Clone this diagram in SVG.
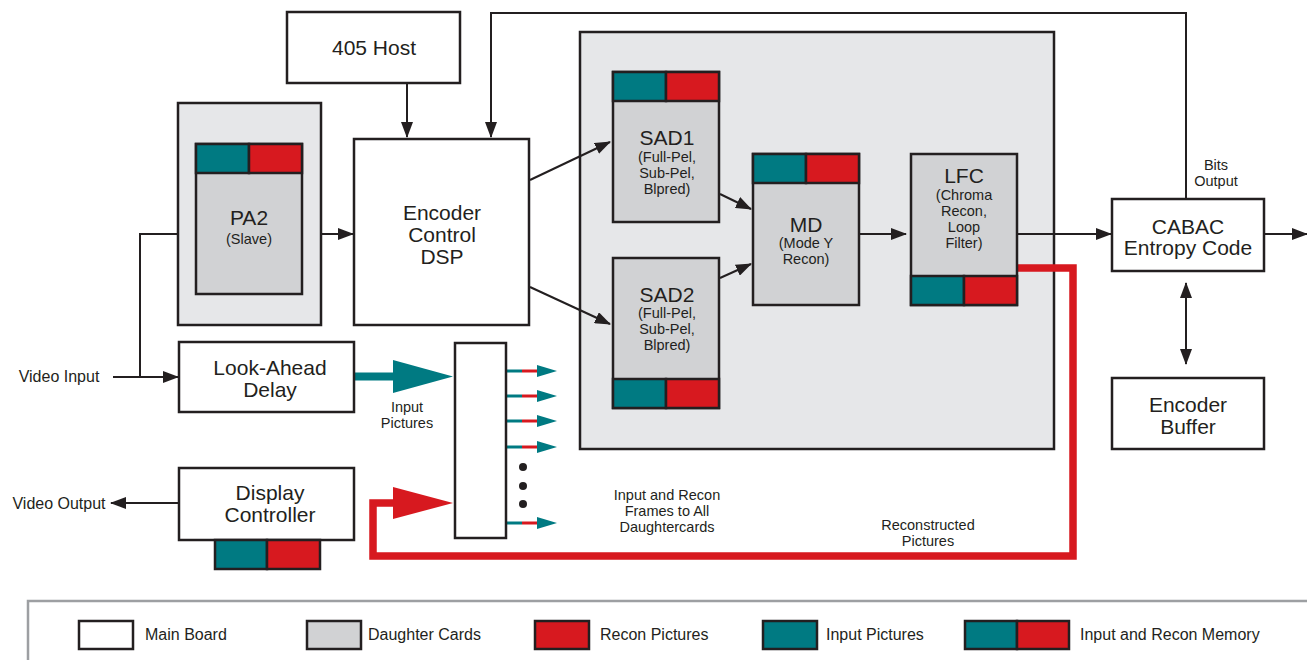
<svg xmlns="http://www.w3.org/2000/svg" width="1307" height="660" viewBox="0 0 1307 660">
  <style>
    text { font-family: "Liberation Sans", Arial, sans-serif; fill: #231f20; text-anchor: middle; }
    .main { fill: #ffffff; stroke: #231f20; stroke-width: 2.5; }
    .card { fill: #d1d2d4; stroke: #231f20; stroke-width: 2.5; }
    .shell { fill: #e6e7e9; stroke: #231f20; stroke-width: 2.5; }
    .teal { fill: #007a82; stroke: #231f20; stroke-width: 2.5; }
    .red { fill: #d7191f; stroke: #231f20; stroke-width: 2.5; }
    .wire { fill: none; stroke: #231f20; stroke-width: 2; }
    .arr { marker-end: url(#ah); }
    .big { font-size: 21px; }
    .title { font-size: 21px; }
    .sub { font-size: 14.5px; }
    .lbl { font-size: 16px; }
    .leg { font-size: 16px; text-anchor: start; }
  </style>
  <defs>
    <marker id="ah" markerUnits="userSpaceOnUse" markerWidth="16" markerHeight="12" refX="15" refY="6" orient="auto">
      <path d="M0,0 L16,6 L0,12 Z" fill="#231f20"/>
    </marker>
    <marker id="ahs" markerUnits="userSpaceOnUse" markerWidth="16" markerHeight="12" refX="1" refY="6" orient="auto">
      <path d="M16,0 L0,6 L16,12 Z" fill="#231f20"/>
    </marker>
    <g id="tap">
      <line x1="0" y1="0" x2="16" y2="0" stroke="#007a82" stroke-width="3"/>
      <line x1="16" y1="0" x2="31" y2="0" stroke="#d7191f" stroke-width="3"/>
      <path d="M31,-6 L51,0 L31,6 Z" fill="#007a82"/>
    </g>
  </defs>

  <!-- daughter card shell -->
  <rect id="card-shell" class="shell" x="580" y="32" width="474" height="417"/>

  <!-- connectors -->
  <g id="connectors">
    <line class="wire arr" x1="407" y1="83" x2="407" y2="137"/>
    <polyline class="wire arr" points="1186,199 1186,13 491,13 491,137"/>
    <line class="wire arr" x1="321" y1="234" x2="353" y2="234"/>
    <line class="wire arr" x1="113" y1="377" x2="178" y2="377"/>
    <polyline class="wire arr" points="140,377 140,234 194,234"/>
    <line class="wire arr" x1="530" y1="180" x2="610" y2="142"/>
    <line class="wire arr" x1="530" y1="287" x2="610" y2="324"/>
    <line class="wire arr" x1="720" y1="194" x2="751" y2="209"/>
    <line class="wire arr" x1="720" y1="278" x2="751" y2="264"/>
    <line class="wire arr" x1="859" y1="234" x2="906" y2="234"/>
    <line class="wire arr" x1="1017" y1="234" x2="1111" y2="234"/>
    <line class="wire arr" x1="1264" y1="234" x2="1307" y2="234"/>
    <line class="wire" x1="1186" y1="283" x2="1186" y2="364" marker-start="url(#ahs)" marker-end="url(#ah)"/>
    <line class="wire arr" x1="179" y1="503" x2="111" y2="503"/>
    <!-- input pictures feed -->
    <line x1="354" y1="376.5" x2="395" y2="376.5" stroke="#007a82" stroke-width="8"/>
    <path d="M393,360 L453,376.5 L393,393 Z" fill="#007a82"/>
    <!-- reconstructed pictures return -->
    <polyline points="1017,268 1073,268 1073,556 373,556 373,503 396,503" fill="none" stroke="#d7191f" stroke-width="7.5"/>
    <path d="M393,487 L453,503 L393,519 Z" fill="#d7191f"/>
    <!-- frame distribution taps -->
    <use href="#tap" x="506" y="371"/>
    <use href="#tap" x="506" y="396"/>
    <use href="#tap" x="506" y="421"/>
    <use href="#tap" x="506" y="447"/>
    <use href="#tap" x="506" y="523"/>
    <circle cx="523" cy="467" r="4" fill="#231f20"/>
    <circle cx="523" cy="486" r="4" fill="#231f20"/>
    <circle cx="523" cy="504" r="4" fill="#231f20"/>
  </g>

  <g id="host">
    <rect class="main" x="287" y="12" width="173" height="71"/>
    <text class="big" x="374" y="55">405 Host</text>
  </g>

  <g id="pa2">
    <rect class="shell" x="178" y="103" width="143" height="222"/>
    <rect class="card" x="196" y="144" width="106" height="150"/>
    <rect class="teal" x="196" y="144" width="53" height="29"/>
    <rect class="red" x="249" y="144" width="53" height="29"/>
    <text class="title" x="249" y="225">PA2</text>
    <text class="sub" x="249" y="244">(Slave)</text>
  </g>

  <g id="encoder-dsp">
    <rect class="main" x="354" y="139" width="175" height="186"/>
    <text class="big" x="442" y="220">Encoder</text>
    <text class="big" x="442" y="242">Control</text>
    <text class="big" x="442" y="264">DSP</text>
  </g>

  <g id="sad1">
    <rect class="card" x="613" y="72" width="106" height="150"/>
    <rect class="teal" x="613" y="72" width="53" height="29"/>
    <rect class="red" x="666" y="72" width="53" height="29"/>
    <text class="title" x="667" y="145">SAD1</text>
    <text class="sub" x="667" y="162">(Full-Pel,</text>
    <text class="sub" x="667" y="178">Sub-Pel,</text>
    <text class="sub" x="667" y="194">Blpred)</text>
  </g>

  <g id="sad2">
    <rect class="card" x="613" y="258" width="106" height="150"/>
    <rect class="teal" x="613" y="379" width="53" height="29"/>
    <rect class="red" x="666" y="379" width="53" height="29"/>
    <text class="title" x="667" y="302">SAD2</text>
    <text class="sub" x="667" y="318">(Full-Pel,</text>
    <text class="sub" x="667" y="334">Sub-Pel,</text>
    <text class="sub" x="667" y="350">Blpred)</text>
  </g>

  <g id="md">
    <rect class="card" x="753" y="154" width="106" height="151"/>
    <rect class="teal" x="753" y="154" width="53" height="29"/>
    <rect class="red" x="806" y="154" width="53" height="29"/>
    <text class="title" x="806" y="232">MD</text>
    <text class="sub" x="806" y="248">(Mode Y</text>
    <text class="sub" x="806" y="264">Recon)</text>
  </g>

  <g id="lfc">
    <rect class="card" x="911" y="154" width="106" height="151"/>
    <rect class="teal" x="911" y="276" width="53" height="29"/>
    <rect class="red" x="964" y="276" width="53" height="29"/>
    <text class="title" x="964" y="183">LFC</text>
    <text class="sub" x="964" y="200">(Chroma</text>
    <text class="sub" x="964" y="216">Recon,</text>
    <text class="sub" x="964" y="232">Loop</text>
    <text class="sub" x="964" y="248">Filter)</text>
  </g>

  <g id="cabac">
    <rect class="main" x="1112" y="199" width="152" height="72"/>
    <text class="big" x="1188" y="234">CABAC</text>
    <text class="big" x="1188" y="255">Entropy Code</text>
    <text class="sub" x="1216" y="170">Bits</text>
    <text class="sub" x="1216" y="186">Output</text>
  </g>

  <g id="encoder-buffer">
    <rect class="main" x="1112" y="378" width="152" height="71"/>
    <text class="big" x="1188" y="412">Encoder</text>
    <text class="big" x="1188" y="434">Buffer</text>
  </g>

  <g id="look-ahead">
    <rect class="main" x="179" y="342" width="175" height="70"/>
    <text class="big" x="270" y="375">Look-Ahead</text>
    <text class="big" x="270" y="397">Delay</text>
  </g>

  <g id="display-controller">
    <rect class="main" x="179" y="468" width="175" height="72"/>
    <rect class="teal" x="215" y="540" width="52" height="29"/>
    <rect class="red" x="267" y="540" width="53" height="29"/>
    <text class="big" x="270" y="500">Display</text>
    <text class="big" x="270" y="522">Controller</text>
  </g>

  <g id="frame-mux">
    <rect class="main" x="455" y="343" width="51" height="195"/>
  </g>

  <g id="labels">
    <text class="lbl" x="59" y="382">Video Input</text>
    <text class="lbl" x="59" y="509">Video Output</text>
    <text class="sub" x="407" y="412">Input</text>
    <text class="sub" x="407" y="428">Pictures</text>
    <text class="sub" x="667" y="500">Input and Recon</text>
    <text class="sub" x="667" y="516">Frames to All</text>
    <text class="sub" x="667" y="532">Daughtercards</text>
    <text class="sub" x="928" y="530">Reconstructed</text>
    <text class="sub" x="928" y="546">Pictures</text>
  </g>

  <g id="legend">
    <rect x="28" y="601" width="1290" height="70" fill="#ffffff" stroke="#9d9fa2" stroke-width="2.5"/>
    <rect class="main" x="79" y="621" width="54" height="28"/>
    <text class="leg" x="145" y="640">Main Board</text>
    <rect class="card" x="307" y="621" width="54" height="28"/>
    <text class="leg" x="368" y="640">Daughter Cards</text>
    <rect class="red" x="535" y="621" width="54" height="28"/>
    <text class="leg" x="600" y="640">Recon Pictures</text>
    <rect class="teal" x="763" y="621" width="54" height="28"/>
    <text class="leg" x="826" y="640">Input Pictures</text>
    <rect class="teal" x="965" y="621" width="52" height="28"/>
    <rect class="red" x="1017" y="621" width="52" height="28"/>
    <text class="leg" x="1080" y="640">Input and Recon Memory</text>
  </g>
</svg>
